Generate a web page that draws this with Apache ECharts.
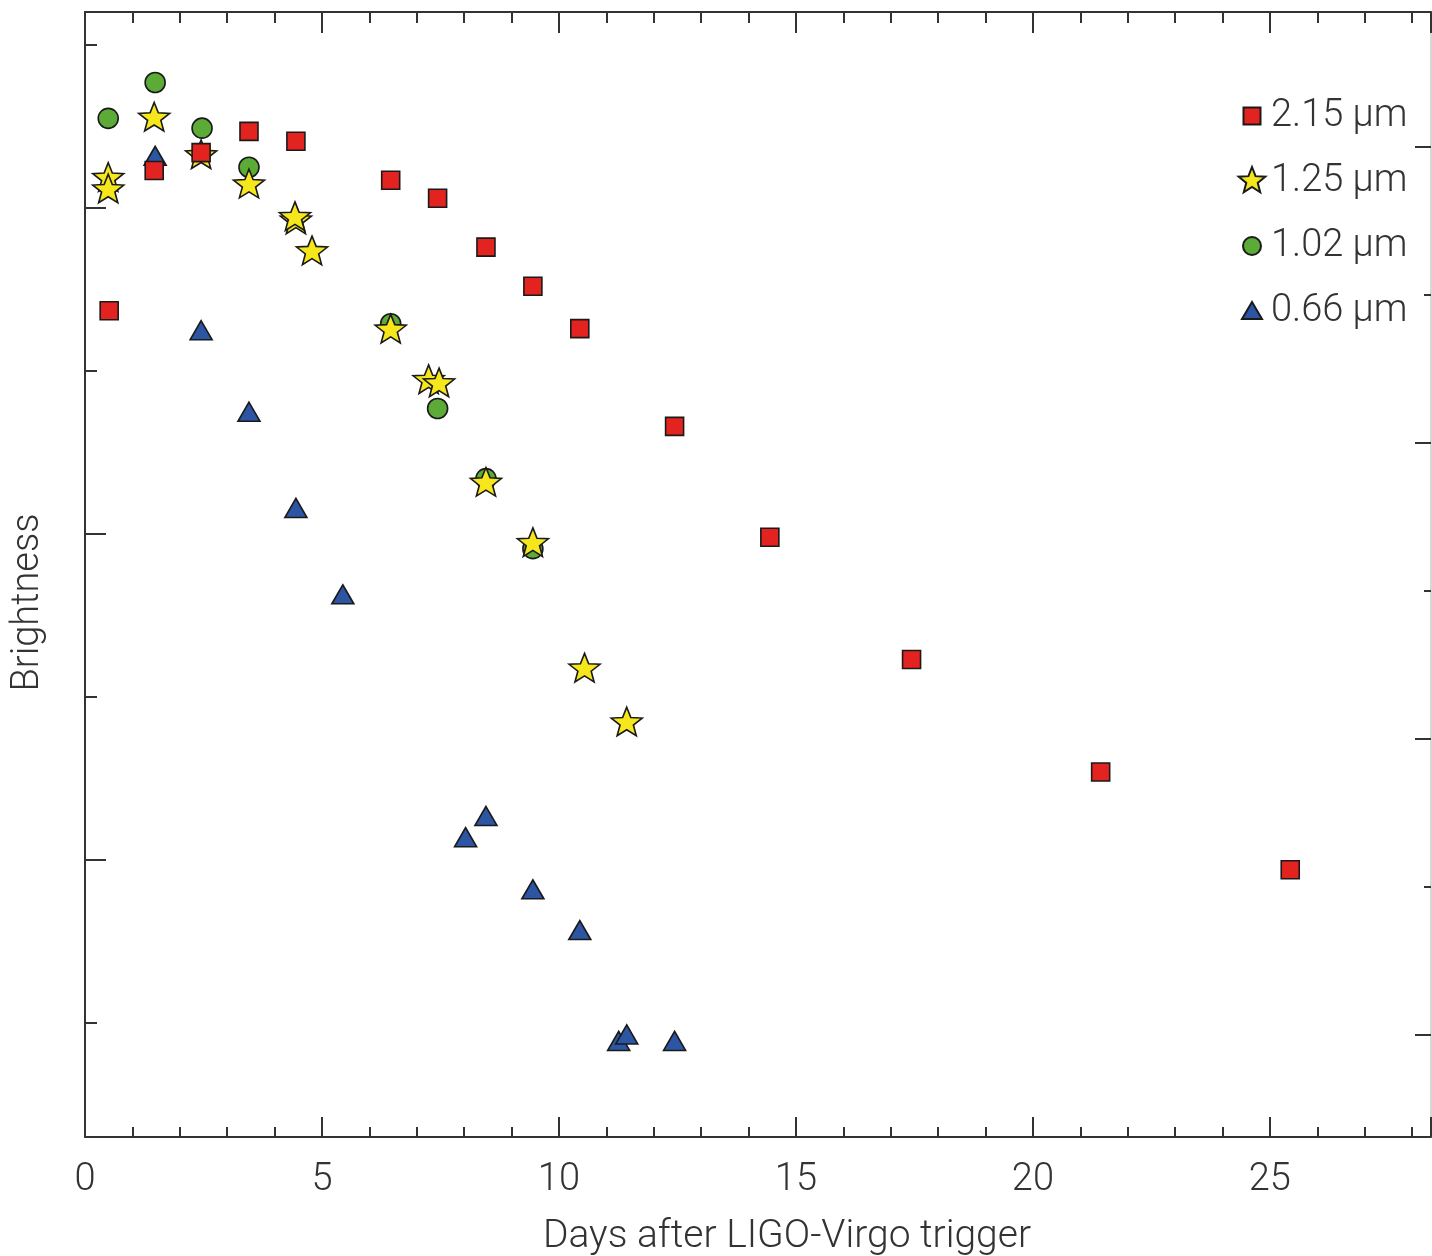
<!DOCTYPE html>
<html><head><meta charset="utf-8">
<script src="https://cdn.jsdelivr.net/npm/echarts@6/dist/echarts.min.js"></script>
<style>html,body{margin:0;padding:0;background:#fff}#c{width:1432px;height:1256px}</style>
</head><body><div id="c"></div>
<script>
// ---- data ----
const seriesNames = ['2.15 µm', '1.25 µm', '1.02 µm', '0.66 µm'];
const xTickLabels = [0, 5, 10, 15, 20, 25];
const days215 = [0.51, 1.46, 2.45, 3.46, 4.45, 6.45, 7.44, 8.46, 9.45, 10.44, 12.44, 14.45, 17.44, 21.43, 25.43];
const bright215 = [5.37, 6.23, 6.34, 6.47, 6.41, 6.17, 6.06, 5.76, 5.52, 5.26, 4.66, 3.98, 3.23, 2.54, 1.94];
const days125 = [0.49, 0.49, 1.46, 2.45, 3.46, 4.45, 4.43, 4.79, 6.45, 7.25, 7.47, 8.46, 9.45, 10.54, 11.43];
const bright125 = [6.19, 6.12, 6.56, 6.33, 6.15, 5.93, 5.95, 5.74, 5.26, 4.95, 4.93, 4.32, 3.95, 3.18, 2.85];
const days102 = [0.49, 1.48, 2.47, 3.46, 6.45, 7.44, 8.46, 9.45];
const bright102 = [6.55, 6.77, 6.49, 6.25, 5.29, 4.77, 4.34, 3.91];
const days066 = [1.48, 2.45, 3.46, 4.45, 5.44, 8.03, 8.46, 9.45, 10.44, 11.26, 11.43, 12.44];
const bright066 = [6.32, 5.25, 4.75, 4.16, 3.63, 2.14, 2.27, 1.82, 1.57, 0.89, 0.93, 0.89];

// ---- helpers ----
function pairs(xs, ys) { return xs.map((x, i) => [x, ys[i]]); }
function starPath(cx, cy, R, ratio) {
  let d = '';
  for (let i = 0; i < 10; i++) {
    const a = (-90 + i * 36) * Math.PI / 180;
    const r = i % 2 ? R * ratio : R;
    d += (i ? 'L' : 'M') + (cx + r * Math.cos(a)).toFixed(2) + ',' + (cy + r * Math.sin(a)).toFixed(2);
  }
  return d + 'Z';
}
const STAR = 'path://' + starPath(50, 50, 50, 0.43);
const LEG_SQUARE = 'path://M0,0M28,28M5.5,5.5h17v17h-17z';
const LEG_CIRCLE = 'path://M0,0M28,28M14,5a9,9 0 1,1 0,18a9,9 0 1,1 0,-18z';
const LEG_TRI = 'path://M0,0M28,28M14,5L24,22L4,22z';
const LEG_STAR = 'path://M0,0M100,100' + starPath(50, 50, 50, 0.43);

const FONT = 'Roboto';
const TXT = '#333';
const AX = '#333';
const border = { borderColor: '#1a1a1a', borderWidth: 1.6 };

const chart = echarts.init(document.getElementById('c'), null, { renderer: 'canvas' });
chart.setOption({
  backgroundColor: '#fff',
  animation: false,
  grid: { left: 85, right: 1, top: 12, bottom: 119, containLabel: false, outerBoundsMode: 'none' },
  legend: {
    orient: 'vertical', left: 1232, top: 91,
    itemWidth: 28, itemHeight: 28, itemGap: 25, itemTextGap: 14,
    textStyle: { fontFamily: FONT, fontWeight: 300, fontSize: 38, color: TXT, lineHeight: 40 },
    data: [
      { name: seriesNames[0], icon: LEG_SQUARE },
      { name: seriesNames[1], icon: LEG_STAR },
      { name: seriesNames[2], icon: LEG_CIRCLE },
      { name: seriesNames[3], icon: LEG_TRI }
    ],
    selectedMode: false
  },
  xAxis: [
    {
      type: 'value', position: 'bottom', min: 0, max: 28.4, minInterval: 5, maxInterval: 5,
      axisLine: { show: true, onZero: false, lineStyle: { color: AX, width: 2 } },
      axisTick: { show: true, inside: true, length: 20, lineStyle: { color: AX, width: 2 } },
      minorTick: { show: true, splitNumber: 5, length: 10, lineStyle: { color: AX, width: 2 } },
      splitLine: { show: false }, minorSplitLine: { show: false },
      axisLabel: {
        show: true, margin: 24, fontFamily: FONT, fontWeight: 300, fontSize: 38, color: TXT,
        showMaxLabel: false,
        formatter: v => (xTickLabels.indexOf(v) >= 0 ? String(v) : '')
      },
      name: 'Days after LIGO-Virgo trigger', nameLocation: 'middle', nameGap: 81,
      nameTextStyle: { fontFamily: FONT, fontWeight: 300, fontSize: 39, color: TXT, padding: [0, 0, 0, 58] }
    },
    {
      type: 'value', position: 'top', min: 0, max: 28.4, minInterval: 5, maxInterval: 5,
      axisLine: { show: true, onZero: false, lineStyle: { color: AX, width: 2 } },
      axisTick: { show: true, inside: true, length: 21, lineStyle: { color: AX, width: 2 } },
      minorTick: { show: true, splitNumber: 5, length: 11, lineStyle: { color: AX, width: 2 } },
      splitLine: { show: false }, minorSplitLine: { show: false },
      axisLabel: { show: false }
    }
  ],
  yAxis: [
    {
      type: 'value', position: 'left', min: 0.3006, max: 7.2025, minInterval: 2, maxInterval: 2,
      axisLine: { show: true, onZero: false, lineStyle: { color: AX, width: 2 } },
      axisTick: { show: true, inside: true, length: 21, lineStyle: { color: AX, width: 2 } },
      minorTick: { show: true, splitNumber: 2, length: 12, lineStyle: { color: AX, width: 2 } },
      splitLine: { show: false }, minorSplitLine: { show: false },
      axisLabel: { show: false },
      name: 'Brightness', nameLocation: 'middle', nameGap: 38,
      nameTextStyle: { fontFamily: FONT, fontWeight: 300, fontSize: 38, color: TXT, padding: [0, 56, 0, 0] }
    },
    {
      type: 'value', position: 'right', min: -0.6892, max: 6.9122, minInterval: 2, maxInterval: 2,
      axisLine: { show: true, onZero: false, lineStyle: { color: '#c8c8c8', width: 1.5 } },
      axisTick: { show: true, inside: true, length: 16, lineStyle: { color: AX, width: 2 } },
      minorTick: { show: true, splitNumber: 2, length: 7, lineStyle: { color: AX, width: 2 } },
      splitLine: { show: false }, minorSplitLine: { show: false },
      axisLabel: { show: false }
    }
  ],
  series: [
    {
      name: seriesNames[2], type: 'scatter', xAxisIndex: 0, yAxisIndex: 0,
      symbol: 'circle', symbolSize: 20,
      itemStyle: Object.assign({ color: '#5bab36', opacity: 1 }, border),
      emphasis: { disabled: true },
      data: pairs(days102, bright102)
    },
    {
      name: seriesNames[3], type: 'scatter', xAxisIndex: 0, yAxisIndex: 0,
      symbol: 'triangle', symbolSize: [22, 19],
      itemStyle: Object.assign({ color: '#2c55a4', opacity: 1 }, border),
      emphasis: { disabled: true },
      data: pairs(days066, bright066)
    },
    {
      name: seriesNames[1], type: 'scatter', xAxisIndex: 0, yAxisIndex: 0,
      symbol: STAR, symbolSize: [31, 30], symbolKeepAspect: true,
      itemStyle: Object.assign({ color: '#f6e61c', opacity: 1 }, border),
      emphasis: { disabled: true },
      data: pairs(days125, bright125)
    },
    {
      name: seriesNames[0], type: 'scatter', xAxisIndex: 0, yAxisIndex: 0,
      symbol: 'rect', symbolSize: 18,
      itemStyle: Object.assign({ color: '#e3231f', opacity: 1 }, border),
      emphasis: { disabled: true },
      data: pairs(days215, bright215)
    }
  ]
});
</script>
</body></html>
